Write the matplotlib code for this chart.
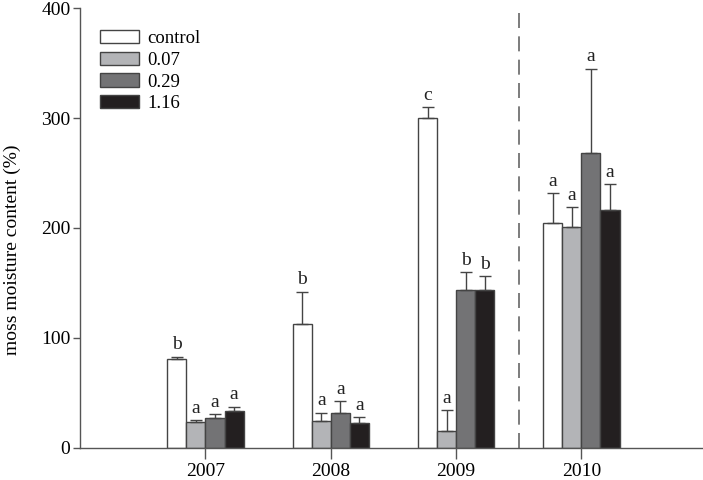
import matplotlib.pyplot as plt
import numpy as np

plt.rcParams['font.family'] = ['Liberation Serif', 'DejaVu Serif']

years = ['2007', '2008', '2009', '2010']
treatments = ['control', '0.07', '0.29', '1.16']
colors = ['#ffffff', '#b3b4b7', '#737375', '#231f20']

# mean moisture and upper error per treatment (in year order)
means = {
    'control': [81, 113, 300, 205],
    '0.07': [23.5, 24.5, 15, 201],
    '0.29': [27, 32, 143.5, 268],
    '1.16': [33.5, 22.5, 144, 216],
}
errs = {
    'control': [2, 29, 10, 26.5],
    '0.07': [2, 7.5, 19.5, 18],
    '0.29': [3.5, 10.5, 16.5, 77],
    '1.16': [4, 5.5, 12, 24],
}
letters = {
    'control': ['b', 'b', 'c', 'a'],
    '0.07': ['a', 'a', 'a', 'a'],
    '0.29': ['a', 'a', 'b', 'a'],
    '1.16': ['a', 'a', 'b', 'a'],
}

fig = plt.figure(figsize=(7.03, 4.8), dpi=100)
ax = fig.add_axes([0.114, 0.067, 0.886, 0.916])

x = np.arange(len(years))
w = 0.152
edge = '#444444'
for i, t in enumerate(treatments):
    pos = x + (i - 1.5) * w
    m = np.array(means[t])
    e = np.array(errs[t])
    ax.bar(pos, m, w, color=colors[i], edgecolor=edge, linewidth=1.0,
           label=t, zorder=2)
    ax.errorbar(pos, m, yerr=[np.zeros_like(e), e], fmt='none',
                ecolor=edge, elinewidth=1.0, capsize=4.5, capthick=1.0,
                zorder=3)
    for p, v, le in zip(pos, m + e, letters[t]):
        ax.text(p, v + 3, le, ha='center', va='bottom', fontsize=14,
                color='#222222')

ax.axvline(2.5, color='#666666', linewidth=1.2, dashes=(9, 5), zorder=1)

ax.set_xlim(-1, 3.97)
ax.set_ylim(0, 400)
ax.set_xticks(x)
ax.set_xticklabels(years)
ax.set_yticks([0, 100, 200, 300, 400])
ax.set_ylabel('moss moisture content (%)', fontsize=14)
ax.yaxis.set_label_coords(-0.095, 0.45)

for s in ['top', 'right']:
    ax.spines[s].set_visible(False)
for s in ['left', 'bottom']:
    ax.spines[s].set_color('#555555')
    ax.spines[s].set_linewidth(1.0)
ax.tick_params(axis='x', length=8, width=1.0, color='#555555',
               labelsize=14, pad=3)
ax.tick_params(axis='y', length=5, width=1.0, color='#555555',
               labelsize=14, pad=2)

ax.legend(loc='upper left', bbox_to_anchor=(0.008, 0.985), frameon=False,
          fontsize=13.5, handlelength=2.1, handleheight=0.7,
          labelspacing=0.25, handletextpad=0.4, borderpad=0.3)

fig.savefig('out.png', dpi=100)
